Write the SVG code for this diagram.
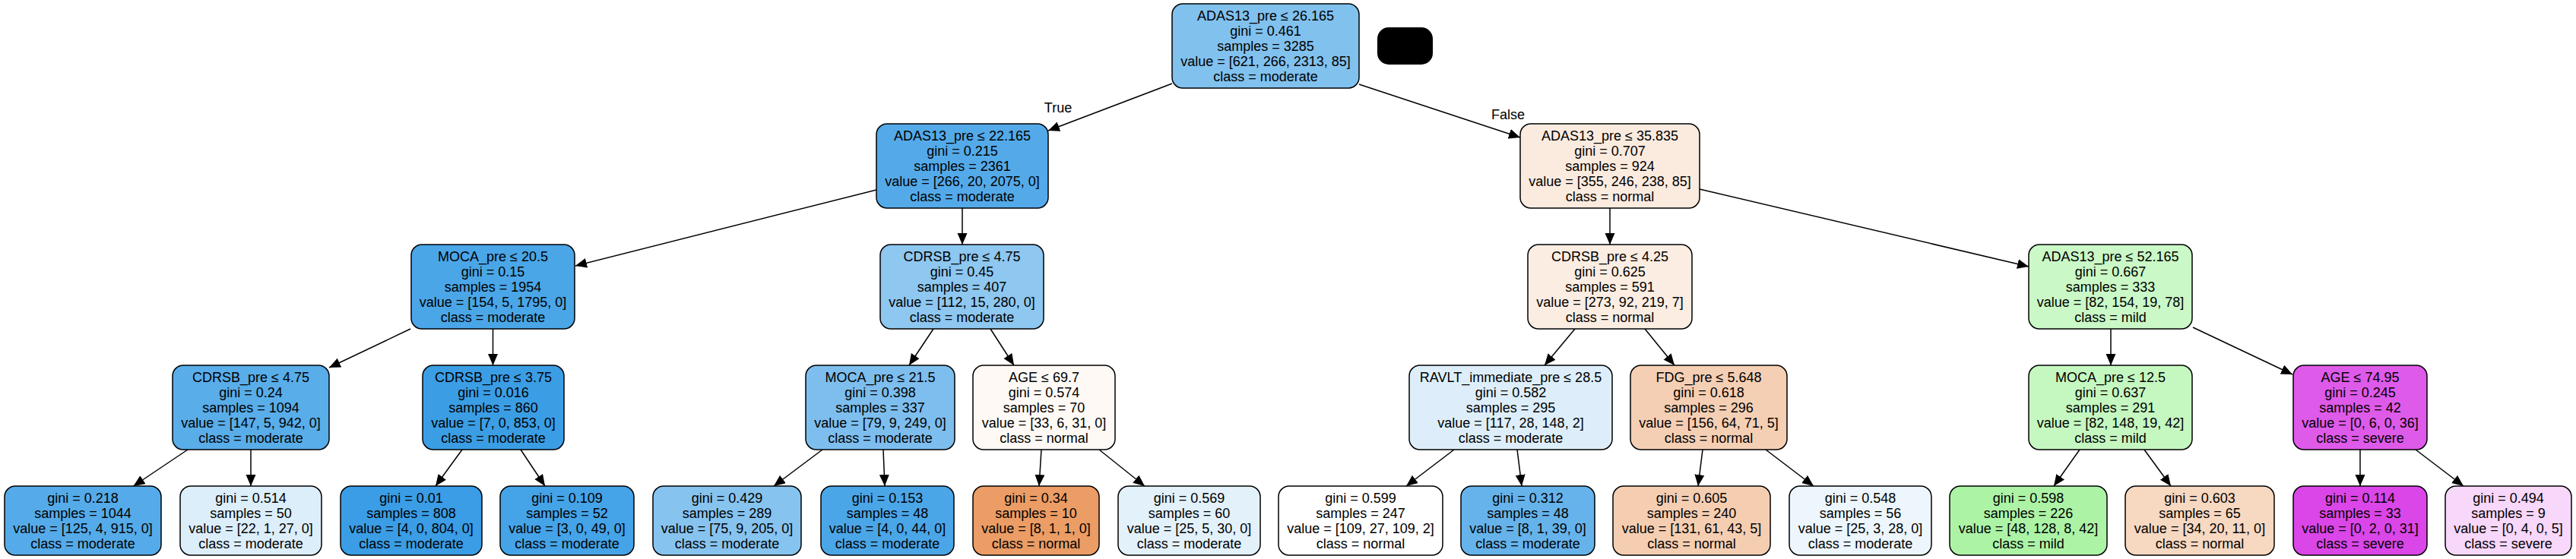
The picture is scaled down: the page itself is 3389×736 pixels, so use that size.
<svg xmlns="http://www.w3.org/2000/svg" width="3389" height="736" viewBox="0 0 3389 736">
<style>
.n rect{stroke:#000;stroke-width:1.5}
text{font-family:"Liberation Sans",Arial,Helvetica,sans-serif;font-size:18px;fill:#000;text-anchor:middle}
.e line{stroke:#000;stroke-width:1.5;marker-end:url(#arr)}
</style>
<defs>
<marker id="arr" markerUnits="userSpaceOnUse" markerWidth="16" markerHeight="14" refX="15" refY="6.5" orient="auto"><path d="M0,0 L15,6.5 L0,13 z" fill="#000"/></marker>
</defs>
<rect width="3389" height="736" fill="#fff"/>
<g id="edges" class="e">
<line x1="1542" y1="110" x2="1379" y2="172"/>
<line x1="1788" y1="111" x2="2000" y2="181"/>
<line x1="1153" y1="250" x2="757" y2="350"/>
<line x1="1266" y1="274" x2="1266" y2="322"/>
<line x1="540" y1="433" x2="433" y2="484"/>
<line x1="648.5" y1="433" x2="648.5" y2="481"/>
<line x1="247" y1="592" x2="175.5" y2="640"/>
<line x1="330" y1="592" x2="330" y2="640"/>
<line x1="608" y1="592" x2="573" y2="640"/>
<line x1="685" y1="592" x2="717" y2="640"/>
<line x1="1228" y1="433" x2="1196" y2="481"/>
<line x1="1303" y1="433" x2="1334" y2="481"/>
<line x1="1082" y1="592" x2="1018" y2="640"/>
<line x1="1162" y1="592" x2="1164" y2="640"/>
<line x1="1370" y1="592" x2="1367" y2="640"/>
<line x1="1446" y1="592" x2="1506" y2="640"/>
<line x1="2118" y1="274" x2="2118" y2="322"/>
<line x1="2236" y1="249" x2="2669" y2="351"/>
<line x1="2072" y1="433" x2="2032" y2="481"/>
<line x1="2164" y1="433" x2="2203" y2="481"/>
<line x1="1913" y1="592" x2="1850" y2="640"/>
<line x1="1996" y1="592" x2="2002" y2="640"/>
<line x1="2240" y1="592" x2="2234" y2="640"/>
<line x1="2323" y1="592" x2="2386" y2="640"/>
<line x1="2777" y1="433" x2="2777" y2="481"/>
<line x1="2885" y1="431" x2="3016" y2="493"/>
<line x1="2736" y1="592" x2="2702" y2="640"/>
<line x1="2821" y1="592" x2="2856" y2="640"/>
<line x1="3105" y1="592" x2="3105" y2="640"/>
<line x1="3178" y1="592" x2="3241" y2="640"/>
<text x="1392" y="148">True</text>
<text x="1984" y="157">False</text>
</g>
<rect id="blackout" x="1812" y="36" width="73" height="49" rx="15" fill="#000"/>
<g id="root" class="n"><rect x="1542" y="5" width="246" height="111" rx="14" fill="#81c1ee"/><text x="1665" y="26.7">ADAS13_pre ≤ 26.165<tspan x="1665" dy="20">gini = 0.461</tspan><tspan x="1665" dy="20">samples = 3285</tspan><tspan x="1665" dy="20">value = [621, 266, 2313, 85]</tspan><tspan x="1665" dy="20">class = moderate</tspan></text></g>
<g id="n_adas22" class="n"><rect x="1153" y="163" width="226" height="111" rx="14" fill="#54aae9"/><text x="1266" y="184.7">ADAS13_pre ≤ 22.165<tspan x="1266" dy="20">gini = 0.215</tspan><tspan x="1266" dy="20">samples = 2361</tspan><tspan x="1266" dy="20">value = [266, 20, 2075, 0]</tspan><tspan x="1266" dy="20">class = moderate</tspan></text></g>
<g id="n_adas35" class="n"><rect x="2000" y="163" width="236" height="111" rx="14" fill="#fbebdf"/><text x="2118" y="184.7">ADAS13_pre ≤ 35.835<tspan x="2118" dy="20">gini = 0.707</tspan><tspan x="2118" dy="20">samples = 924</tspan><tspan x="2118" dy="20">value = [355, 246, 238, 85]</tspan><tspan x="2118" dy="20">class = normal</tspan></text></g>
<g id="n_moca205" class="n"><rect x="541" y="322" width="215" height="111" rx="14" fill="#4aa6e7"/><text x="648.5" y="343.7">MOCA_pre ≤ 20.5<tspan x="648.5" dy="20">gini = 0.15</tspan><tspan x="648.5" dy="20">samples = 1954</tspan><tspan x="648.5" dy="20">value = [154, 5, 1795, 0]</tspan><tspan x="648.5" dy="20">class = moderate</tspan></text></g>
<g id="n_cdrsb475r" class="n"><rect x="1158" y="322" width="215" height="111" rx="14" fill="#8ec7f0"/><text x="1265.5" y="343.7">CDRSB_pre ≤ 4.75<tspan x="1265.5" dy="20">gini = 0.45</tspan><tspan x="1265.5" dy="20">samples = 407</tspan><tspan x="1265.5" dy="20">value = [112, 15, 280, 0]</tspan><tspan x="1265.5" dy="20">class = moderate</tspan></text></g>
<g id="n_cdrsb425" class="n"><rect x="2010" y="322" width="216" height="111" rx="14" fill="#fbede2"/><text x="2118" y="343.7">CDRSB_pre ≤ 4.25<tspan x="2118" dy="20">gini = 0.625</tspan><tspan x="2118" dy="20">samples = 591</tspan><tspan x="2118" dy="20">value = [273, 92, 219, 7]</tspan><tspan x="2118" dy="20">class = normal</tspan></text></g>
<g id="n_adas52" class="n"><rect x="2669" y="322" width="215" height="111" rx="14" fill="#caf8c6"/><text x="2776.5" y="343.7">ADAS13_pre ≤ 52.165<tspan x="2776.5" dy="20">gini = 0.667</tspan><tspan x="2776.5" dy="20">samples = 333</tspan><tspan x="2776.5" dy="20">value = [82, 154, 19, 78]</tspan><tspan x="2776.5" dy="20">class = mild</tspan></text></g>
<g id="n_cdrsb475l" class="n"><rect x="227" y="481" width="206" height="111" rx="14" fill="#59ade9"/><text x="330" y="502.7">CDRSB_pre ≤ 4.75<tspan x="330" dy="20">gini = 0.24</tspan><tspan x="330" dy="20">samples = 1094</tspan><tspan x="330" dy="20">value = [147, 5, 942, 0]</tspan><tspan x="330" dy="20">class = moderate</tspan></text></g>
<g id="n_cdrsb375" class="n"><rect x="556" y="481" width="186" height="111" rx="14" fill="#3b9ee5"/><text x="649" y="502.7">CDRSB_pre ≤ 3.75<tspan x="649" dy="20">gini = 0.016</tspan><tspan x="649" dy="20">samples = 860</tspan><tspan x="649" dy="20">value = [7, 0, 853, 0]</tspan><tspan x="649" dy="20">class = moderate</tspan></text></g>
<g id="n_moca215" class="n"><rect x="1060" y="481" width="196" height="111" rx="14" fill="#7dbeee"/><text x="1158" y="502.7">MOCA_pre ≤ 21.5<tspan x="1158" dy="20">gini = 0.398</tspan><tspan x="1158" dy="20">samples = 337</tspan><tspan x="1158" dy="20">value = [79, 9, 249, 0]</tspan><tspan x="1158" dy="20">class = moderate</tspan></text></g>
<g id="n_age697" class="n"><rect x="1280" y="481" width="187" height="111" rx="14" fill="#fef9f5"/><text x="1373.5" y="502.7">AGE ≤ 69.7<tspan x="1373.5" dy="20">gini = 0.574</tspan><tspan x="1373.5" dy="20">samples = 70</tspan><tspan x="1373.5" dy="20">value = [33, 6, 31, 0]</tspan><tspan x="1373.5" dy="20">class = normal</tspan></text></g>
<g id="n_ravlt" class="n"><rect x="1854" y="481" width="267" height="111" rx="14" fill="#ddeefa"/><text x="1987.5" y="502.7">RAVLT_immediate_pre ≤ 28.5<tspan x="1987.5" dy="20">gini = 0.582</tspan><tspan x="1987.5" dy="20">samples = 295</tspan><tspan x="1987.5" dy="20">value = [117, 28, 148, 2]</tspan><tspan x="1987.5" dy="20">class = moderate</tspan></text></g>
<g id="n_fdg" class="n"><rect x="2145" y="481" width="206" height="111" rx="14" fill="#f5cfb4"/><text x="2248" y="502.7">FDG_pre ≤ 5.648<tspan x="2248" dy="20">gini = 0.618</tspan><tspan x="2248" dy="20">samples = 296</tspan><tspan x="2248" dy="20">value = [156, 64, 71, 5]</tspan><tspan x="2248" dy="20">class = normal</tspan></text></g>
<g id="n_moca125" class="n"><rect x="2669" y="481" width="215" height="111" rx="14" fill="#c5f7c0"/><text x="2776.5" y="502.7">MOCA_pre ≤ 12.5<tspan x="2776.5" dy="20">gini = 0.637</tspan><tspan x="2776.5" dy="20">samples = 291</tspan><tspan x="2776.5" dy="20">value = [82, 148, 19, 42]</tspan><tspan x="2776.5" dy="20">class = mild</tspan></text></g>
<g id="n_age7495" class="n"><rect x="3017" y="481" width="176" height="111" rx="14" fill="#de5ae9"/><text x="3105" y="502.7">AGE ≤ 74.95<tspan x="3105" dy="20">gini = 0.245</tspan><tspan x="3105" dy="20">samples = 42</tspan><tspan x="3105" dy="20">value = [0, 6, 0, 36]</tspan><tspan x="3105" dy="20">class = severe</tspan></text></g>
<g id="leaf_0218" class="n"><rect x="6" y="640" width="206" height="91" rx="14" fill="#55abe9"/><text x="109" y="661.7">gini = 0.218<tspan x="109" dy="20">samples = 1044</tspan><tspan x="109" dy="20">value = [125, 4, 915, 0]</tspan><tspan x="109" dy="20">class = moderate</tspan></text></g>
<g id="leaf_0514" class="n"><rect x="237" y="640" width="186" height="91" rx="14" fill="#dceefa"/><text x="330" y="661.7">gini = 0.514<tspan x="330" dy="20">samples = 50</tspan><tspan x="330" dy="20">value = [22, 1, 27, 0]</tspan><tspan x="330" dy="20">class = moderate</tspan></text></g>
<g id="leaf_001" class="n"><rect x="448" y="640" width="186" height="91" rx="14" fill="#3a9de5"/><text x="541" y="661.7">gini = 0.01<tspan x="541" dy="20">samples = 808</tspan><tspan x="541" dy="20">value = [4, 0, 804, 0]</tspan><tspan x="541" dy="20">class = moderate</tspan></text></g>
<g id="leaf_0109" class="n"><rect x="658" y="640" width="176" height="91" rx="14" fill="#45a3e7"/><text x="746" y="661.7">gini = 0.109<tspan x="746" dy="20">samples = 52</tspan><tspan x="746" dy="20">value = [3, 0, 49, 0]</tspan><tspan x="746" dy="20">class = moderate</tspan></text></g>
<g id="leaf_0429" class="n"><rect x="859" y="640" width="195" height="91" rx="14" fill="#87c3ef"/><text x="956.5" y="661.7">gini = 0.429<tspan x="956.5" dy="20">samples = 289</tspan><tspan x="956.5" dy="20">value = [75, 9, 205, 0]</tspan><tspan x="956.5" dy="20">class = moderate</tspan></text></g>
<g id="leaf_0153" class="n"><rect x="1080" y="640" width="175" height="91" rx="14" fill="#4ba6e7"/><text x="1167.5" y="661.7">gini = 0.153<tspan x="1167.5" dy="20">samples = 48</tspan><tspan x="1167.5" dy="20">value = [4, 0, 44, 0]</tspan><tspan x="1167.5" dy="20">class = moderate</tspan></text></g>
<g id="leaf_034" class="n"><rect x="1280" y="640" width="166" height="91" rx="14" fill="#eb9d65"/><text x="1363" y="661.7">gini = 0.34<tspan x="1363" dy="20">samples = 10</tspan><tspan x="1363" dy="20">value = [8, 1, 1, 0]</tspan><tspan x="1363" dy="20">class = normal</tspan></text></g>
<g id="leaf_0569" class="n"><rect x="1471" y="640" width="187" height="91" rx="14" fill="#e3f1fb"/><text x="1564.5" y="661.7">gini = 0.569<tspan x="1564.5" dy="20">samples = 60</tspan><tspan x="1564.5" dy="20">value = [25, 5, 30, 0]</tspan><tspan x="1564.5" dy="20">class = moderate</tspan></text></g>
<g id="leaf_0599" class="n"><rect x="1682" y="640" width="216" height="91" rx="14" fill="#ffffff"/><text x="1790" y="661.7">gini = 0.599<tspan x="1790" dy="20">samples = 247</tspan><tspan x="1790" dy="20">value = [109, 27, 109, 2]</tspan><tspan x="1790" dy="20">class = normal</tspan></text></g>
<g id="leaf_0312" class="n"><rect x="1922" y="640" width="176" height="91" rx="14" fill="#66b3eb"/><text x="2010" y="661.7">gini = 0.312<tspan x="2010" dy="20">samples = 48</tspan><tspan x="2010" dy="20">value = [8, 1, 39, 0]</tspan><tspan x="2010" dy="20">class = moderate</tspan></text></g>
<g id="leaf_0605" class="n"><rect x="2122" y="640" width="207" height="91" rx="14" fill="#f5ceb2"/><text x="2225.5" y="661.7">gini = 0.605<tspan x="2225.5" dy="20">samples = 240</tspan><tspan x="2225.5" dy="20">value = [131, 61, 43, 5]</tspan><tspan x="2225.5" dy="20">class = normal</tspan></text></g>
<g id="leaf_0548" class="n"><rect x="2354" y="640" width="187" height="91" rx="14" fill="#ecf6fc"/><text x="2447.5" y="661.7">gini = 0.548<tspan x="2447.5" dy="20">samples = 56</tspan><tspan x="2447.5" dy="20">value = [25, 3, 28, 0]</tspan><tspan x="2447.5" dy="20">class = moderate</tspan></text></g>
<g id="leaf_0598" class="n"><rect x="2565" y="640" width="207" height="91" rx="14" fill="#acf3a6"/><text x="2668.5" y="661.7">gini = 0.598<tspan x="2668.5" dy="20">samples = 226</tspan><tspan x="2668.5" dy="20">value = [48, 128, 8, 42]</tspan><tspan x="2668.5" dy="20">class = mild</tspan></text></g>
<g id="leaf_0603" class="n"><rect x="2796" y="640" width="196" height="91" rx="14" fill="#f7d8c1"/><text x="2894" y="661.7">gini = 0.603<tspan x="2894" dy="20">samples = 65</tspan><tspan x="2894" dy="20">value = [34, 20, 11, 0]</tspan><tspan x="2894" dy="20">class = normal</tspan></text></g>
<g id="leaf_0114" class="n"><rect x="3017" y="640" width="176" height="91" rx="14" fill="#da46e7"/><text x="3105" y="661.7">gini = 0.114<tspan x="3105" dy="20">samples = 33</tspan><tspan x="3105" dy="20">value = [0, 2, 0, 31]</tspan><tspan x="3105" dy="20">class = severe</tspan></text></g>
<g id="leaf_0494" class="n"><rect x="3217" y="640" width="166" height="91" rx="14" fill="#f7d7fa"/><text x="3300" y="661.7">gini = 0.494<tspan x="3300" dy="20">samples = 9</tspan><tspan x="3300" dy="20">value = [0, 4, 0, 5]</tspan><tspan x="3300" dy="20">class = severe</tspan></text></g>
</svg>
